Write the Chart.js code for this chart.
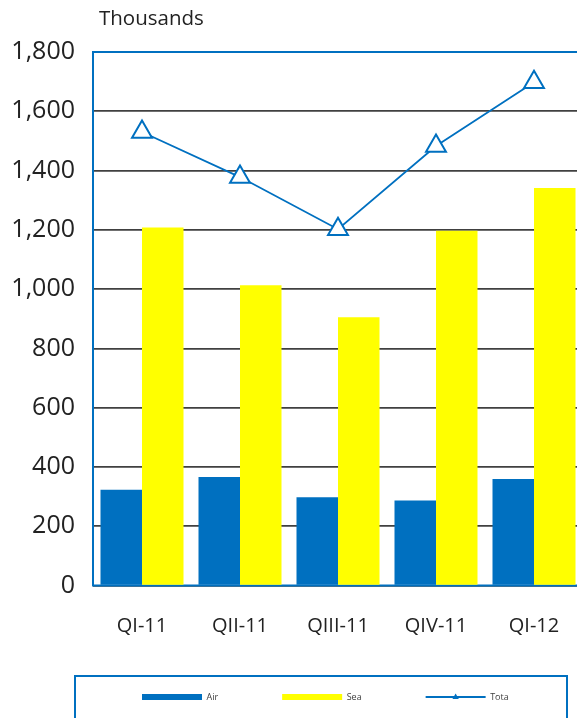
<!DOCTYPE html>
<html>
<head>
<meta charset="utf-8">
<script src="https://cdn.jsdelivr.net/npm/chart.js@4/dist/chart.umd.min.js"></script>
<style>
  html, body { margin: 0; padding: 0; overflow: hidden; background: #fff; }
  #wrap { width: 640px; height: 718px; }
</style>
</head>
<body>
<div id="wrap"><canvas id="shipChart"></canvas></div>
<script>
// quarters on the x axis
const quarters = ['QI-11', 'QII-11', 'QIII-11', 'QIV-11', 'QI-12'];
// values in thousands
const airValues = [323, 366, 298, 287, 359];
const seaValues = [1208, 1013, 905, 1197, 1341];
const totalValues = [1530, 1378, 1202, 1483, 1698];
const seriesNames = ['Air', 'Sea', 'Tota'];
const unitLabel = 'Thousands';

const BLUE = '#0070C0';
const YELLOW = '#FFFF00';
const FONT = "'Open Sans', 'Noto Sans', sans-serif";

/* frame round the plot, unit label and legend box */
const framePlugin = {
    id: 'frame',
    afterLayout(chart) {
        // legend sits further right and higher than the layout puts it
        chart.legend.left = 78;
        chart.legend.top = 628.5;
    },
    beforeDatasetsDraw(chart) {
        const a = chart.chartArea;
        const ctx = chart.ctx;
        ctx.save();
        ctx.strokeStyle = BLUE;
        ctx.lineWidth = 2;
        ctx.strokeRect(a.left, a.top, a.right - a.left, a.bottom - a.top);
        ctx.restore();
    },
    afterDraw(chart) {
        const ctx = chart.ctx;
        ctx.save();
        // unit label
        ctx.fillStyle = '#222';
        ctx.font = '20.5px ' + FONT;
        ctx.textBaseline = 'middle';
        ctx.textAlign = 'left';
        ctx.fillText(unitLabel, 99, 19);
        // legend box
        ctx.strokeStyle = BLUE;
        ctx.lineWidth = 2;
        ctx.strokeRect(75, 676, 492, 60);
        // small marker on the line key
        const boxes = chart.legend.legendHitBoxes;
        if (boxes && boxes[2]) {
            const cx = boxes[2].left + 30;
            const cy = boxes[2].top + 4.5;
            ctx.fillStyle = BLUE;
            ctx.beginPath();
            ctx.moveTo(cx, cy - 3.5);
            ctx.lineTo(cx + 3.2, cy + 2);
            ctx.lineTo(cx - 3.2, cy + 2);
            ctx.closePath();
            ctx.fill();
        }
        ctx.restore();
    }
};

var ctx = document.getElementById('shipChart').getContext('2d');
var myChart = new Chart(ctx, {
    type: 'bar',
    data: {
        labels: quarters,
        datasets: [{
            label: seriesNames[0],
            data: airValues,
            backgroundColor: BLUE,
            order: 2
        }, {
            label: seriesNames[1],
            data: seaValues,
            backgroundColor: YELLOW,
            order: 2
        }, {
            type: 'line',
            label: seriesNames[2],
            data: totalValues,
            borderColor: BLUE,
            borderWidth: 1.8,
            pointStyle: 'triangle',
            pointRadius: 11.5,
            pointBackgroundColor: '#fff',
            pointBorderColor: BLUE,
            pointBorderWidth: 2,
            order: 1
        }]
    },
    options: {
        responsive: true,
        maintainAspectRatio: false,
        animation: false,
        devicePixelRatio: 1,
        categoryPercentage: 0.847,
        barPercentage: 1,
        layout: {
            padding: { left: 0, right: 57, top: 52, bottom: -10.5 }
        },
        scales: {
            x: {
                grid: { display: false, drawTicks: false },
                border: { display: false },
                ticks: {
                    color: '#222',
                    font: { family: FONT, size: 20 },
                    padding: 29
                },
                afterFit: function (scale) { scale.height = 60; }
            },
            y: {
                min: 0,
                max: 1800,
                grid: { color: '#404040', lineWidth: 1.7, drawTicks: false },
                border: { display: false },
                ticks: {
                    stepSize: 200,
                    color: '#222',
                    font: { family: FONT, size: 25 },
                    padding: 18,
                    callback: function (v) { return v.toLocaleString('en-US'); }
                },
                afterFit: function (scale) { scale.width = 93; }
            }
        },
        plugins: {
            tooltip: { enabled: false },
            legend: {
                position: 'bottom',
                align: 'start',
                labels: {
                    usePointStyle: true,
                    pointStyleWidth: 60,
                    boxHeight: 6,
                    padding: 64,
                    color: '#404040',
                    font: { family: FONT, size: 9 },
                    generateLabels: function (chart) {
                        return chart.data.datasets.map(function (ds, i) {
                            const isLine = ds.type === 'line';
                            return {
                                text: ds.label,
                                datasetIndex: i,
                                fillStyle: isLine ? 'rgba(0,0,0,0)' : ds.backgroundColor,
                                strokeStyle: ds.borderColor || ds.backgroundColor,
                                lineWidth: isLine ? 2 : 0,
                                pointStyle: isLine ? 'line' : 'rect',
                                fontColor: '#404040',
                                hidden: false
                            };
                        });
                    }
                }
            }
        }
    },
    plugins: [framePlugin]
});
</script>
</body>
</html>
